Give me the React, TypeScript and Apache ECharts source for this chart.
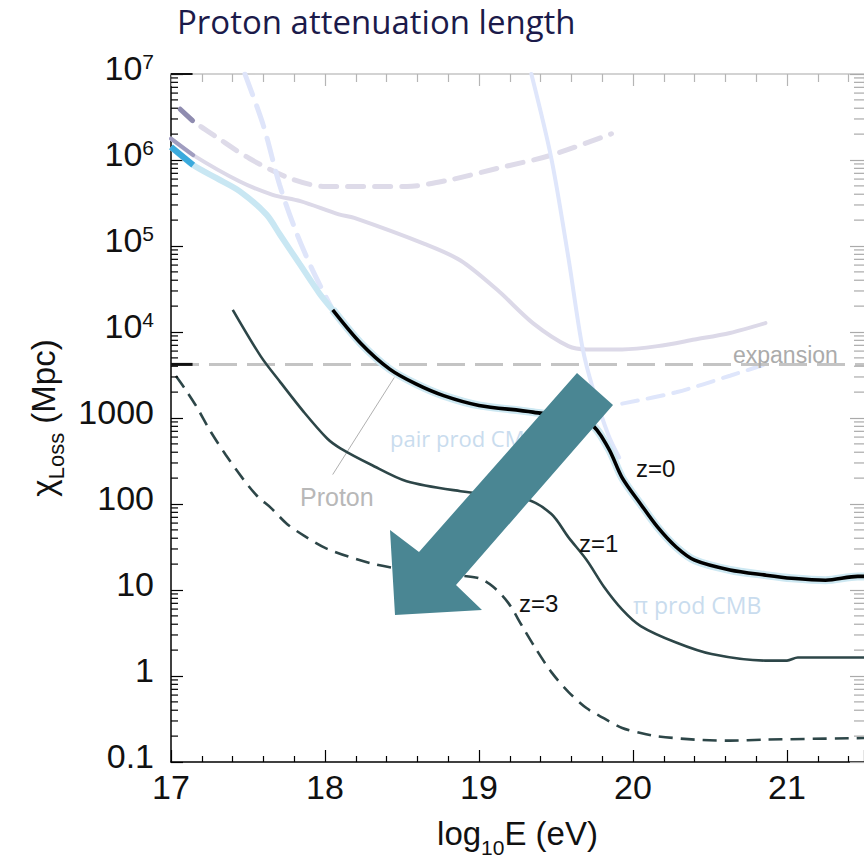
import React, { useEffect, useRef } from "react";
import * as echarts from "echarts";

// ---- axes ----
const X_MIN = 17;
const X_MAX = 21.5;
const Y_MIN = 0.1;
const Y_MAX = 1e7;
const MINOR_MULT = [2, 3, 4, 5, 6, 7, 8, 9];
const DECADES = [0.1, 1, 10, 100, 1000, 1e4, 1e5, 1e6];

// ---- z = 0 (black, high-energy part) ----
const Z0_E = [18.05, 18.23, 18.42, 18.59, 18.77, 19.0, 19.35, 19.72, 19.84, 19.93, 20.05, 20.16, 20.28, 20.4, 20.63, 20.86, 21.03, 21.25, 21.46, 21.5];
const Z0_X = [18100, 7460, 3700, 2490, 1820, 1400, 1170, 860, 446, 201, 99.5, 53.7, 31.6, 22.2, 17.1, 14.9, 13.7, 13.0, 14.4, 14.4];
// ---- z = 0 low-energy part (faded blue) ----
const Z0L_E = [17.0, 17.144, 17.296, 17.447, 17.619, 17.706, 17.835, 17.964, 18.05];
const Z0L_X = [1.42e6, 8.73e5, 6.14e5, 4.32e5, 2.33e5, 1.37e5, 6.19e4, 2.81e4, 18100];
// ---- z = 1 ----
const Z1_E = [17.401, 17.583, 17.712, 17.863, 18.014, 18.1, 18.3, 18.53, 18.88, 19.3, 19.47, 19.58, 19.7, 19.81, 19.93, 20.05, 20.28, 20.51, 20.86, 21.0, 21.07, 21.5];
const Z1_X = [18100, 5210, 2580, 1170, 577, 444, 286, 184, 141, 114, 76.4, 41.2, 22.2, 11.0, 5.92, 3.81, 2.45, 1.8, 1.51, 1.51, 1.64, 1.64];
// ---- z = 3 ----
const Z3_E = [17.032, 17.086, 17.162, 17.259, 17.356, 17.464, 17.561, 17.647, 17.755, 17.863, 18.014, 18.3, 18.53, 18.84, 19.0, 19.09, 19.19, 19.28, 19.37, 19.47, 19.58, 19.7, 19.81, 19.93, 20.05, 20.16, 20.4, 20.63, 20.86, 21.5];
const Z3_X = [3080, 2250, 1390, 687, 372, 200, 123, 90.8, 58.3, 42.9, 30.1, 20.4, 17.1, 14.9, 13.7, 11.0, 7.08, 3.81, 2.06, 1.11, 0.655, 0.421, 0.323, 0.248, 0.217, 0.199, 0.182, 0.177, 0.182, 0.19];
// ---- faded background curves ----
const LAV_E = [17.0, 17.144, 17.447, 17.66, 17.84, 18.09, 18.19, 18.65, 18.88, 19.12, 19.35, 19.58, 19.7, 19.93, 20.16, 20.4, 20.63, 20.86];
const LAV_X = [1.77e6, 1.14e6, 5.62e5, 3.94e5, 3.32e5, 2.33e5, 2.12e5, 1.05e5, 6.78e4, 3.07e4, 1.27e4, 6850, 6280, 6280, 6850, 8170, 9750, 12700];
const LAVD_E = [17.06, 17.14, 17.296, 17.51, 17.77, 18.0, 18.14, 18.53, 18.81, 19.12, 19.47, 19.86];
const LAVD_X = [3.89e6, 2.87e6, 1.85e6, 1.04e6, 6.14e5, 4.93e5, 4.93e5, 4.93e5, 5.87e5, 8.0e5, 1.14e6, 2.02e6];
const PERD_E = [17.48, 17.6, 17.705, 17.81, 17.92, 18.05];
const PERD_X = [1e7, 2.51e6, 5.14e5, 1.5e5, 5.2e4, 18100];
const PERS_E = [19.34, 19.47, 19.58, 19.67, 19.74, 19.84, 19.91];
const PERS_X = [1e7, 1.04e6, 7.4e4, 6860, 2180, 634, 347];
const PERD2_E = [19.93, 20.28, 20.63, 20.86];
const PERD2_X = [1470, 1990, 3100, 4220];
const EXPANSION = 4200;
const LEADER_E = [18.45, 18.05];
const LEADER_X = [2960, 220];

const pts = (e: number[], x: number[]) => e.map((v, i) => [v, x[i]]);

const AXIS_FONT = "'Liberation Sans', Arial, sans-serif";
const SLIDE_FONT = "'Open Sans', sans-serif";

function yLabel(v: number) {
  const n = Math.round(Math.log10(v));
  if (n >= 4) return `{b|10}{s|${n}}`;
  const txt = n >= 0 ? String(Math.round(v)) : "0.1";
  return `{b|${txt}}`;
}

export default function App() {
  const ref = useRef<HTMLDivElement>(null);
  useEffect(() => {
    if (!ref.current) return;
    const chart = echarts.init(ref.current, undefined, { renderer: "svg" });
    const minorTicks: number[][] = [];
    DECADES.forEach((d) => MINOR_MULT.forEach((m) => minorTicks.push([X_MIN, +(d * m).toPrecision(3)])));

    const faint = (name: string, data: number[][], color: string, width: number, dash?: number[]) => ({
      name,
      type: "line",
      data,
      smooth: 0.3,
      symbol: "none",
      silent: true,
      lineStyle: { color, width, type: dash ? dash : "solid", cap: "round" },
      z: 1,
    });
    const note = (text: string, x: number, y: number, size: number, fill: string, font = AXIS_FONT) => ({
      type: "text",
      x,
      y,
      z: 50,
      style: { text, fontFamily: font, fontSize: size, fill, textVerticalAlign: "middle", verticalAlign: "middle" },
    });

    chart.setOption({
      animation: false,
      backgroundColor: "#ffffff",
      title: {
        text: "Proton attenuation length",
        left: 172,
        top: 0,
        textStyle: { fontFamily: SLIDE_FONT, fontSize: 33, fontWeight: "normal", color: "#1b1a4a" },
      },
      grid: { left: 171, top: 74, width: 695, height: 697, containLabel: false },
      xAxis: [
        {
          type: "value",
          min: X_MIN,
          max: X_MAX,
          interval: 1,
          name: "{m|log}{sub|10}{m|E (eV)}",
          nameLocation: "middle",
          nameGap: 55,
          nameTextStyle: {
            rich: {
              m: { fontFamily: AXIS_FONT, fontSize: 33, lineHeight: 33, color: "#111", verticalAlign: "top" },
              sub: { fontFamily: AXIS_FONT, fontSize: 21, lineHeight: 21, color: "#111", verticalAlign: "top", padding: [20, 0, 0, 0] },
            },
          },
          axisLine: { lineStyle: { color: "#000", width: 1.5 } },
          axisTick: { inside: true, length: 12, lineStyle: { color: "#000", width: 1.2 } },
          minorTick: { show: true, splitNumber: 5, length: 6, lineStyle: { color: "#000", width: 1.2 } },
          splitLine: { show: false },
          axisLabel: {
            fontFamily: AXIS_FONT,
            fontSize: 34,
            color: "#111",
            margin: 8,
            showMaxLabel: false,
            formatter: (v: number) => String(Math.round(v)),
          },
        },
        {
          type: "value",
          position: "top",
          min: X_MIN,
          max: X_MAX,
          interval: 1,
          axisLine: { show: true, lineStyle: { color: "#c4c4c4", width: 1.5 } },
          axisTick: { inside: true, length: 12, lineStyle: { color: "#b5b5b5", width: 1.2 } },
          minorTick: { show: true, splitNumber: 5, length: 8, lineStyle: { color: "#b5b5b5", width: 1.2 } },
          splitLine: { show: false },
          axisLabel: { show: false },
        },
      ],
      yAxis: [
        {
          type: "log",
          logBase: 10,
          min: Y_MIN,
          max: Y_MAX,
          name: "{c|χ}{sub|Loss}{c| (Mpc)}",
          nameLocation: "middle",
          nameRotate: 90,
          nameGap: 110,
          nameTextStyle: {
            rich: {
              c: { fontFamily: AXIS_FONT, fontSize: 33, lineHeight: 33, color: "#111", verticalAlign: "top" },
              sub: { fontFamily: AXIS_FONT, fontSize: 22, lineHeight: 22, color: "#111", verticalAlign: "top", padding: [18, 0, 0, 0] },
            },
          },
          axisLine: { lineStyle: { color: "#000", width: 1.5 } },
          axisTick: { inside: true, length: 12, lineStyle: { color: "#000", width: 1.2 } },
          splitLine: { show: false },
          axisLabel: {
            margin: 17,
            padding: [0, 0, 12, 0],
            formatter: yLabel,
            rich: {
              b: { fontFamily: AXIS_FONT, fontSize: 34, lineHeight: 34, color: "#111" },
              s: { fontFamily: AXIS_FONT, fontSize: 21, lineHeight: 34, color: "#111", verticalAlign: "top" },
            },
          },
        },
        {
          type: "log",
          logBase: 10,
          min: Y_MIN,
          max: Y_MAX,
          position: "right",
          axisLine: { show: false },
          axisTick: { inside: true, length: 14, lineStyle: { color: "#aaa", width: 1.2 } },
          splitLine: { show: false },
          axisLabel: { show: false },
        },
      ],
      series: [
        {
          type: "custom",
          name: "minor ticks",
          silent: true,
          data: minorTicks,
          clip: false,
          renderItem: (params: any, api: any) => {
            const p = api.coord([api.value(0), api.value(1)]);
            const cs = params.coordSys;
            const r = cs.x + cs.width;
            return {
              type: "group",
              children: [
                { type: "line", shape: { x1: cs.x, y1: p[1], x2: cs.x + 7, y2: p[1] }, style: { stroke: "#000", lineWidth: 1.2 } },
                { type: "line", shape: { x1: r - 10, y1: p[1], x2: r, y2: p[1] }, style: { stroke: "#aaa", lineWidth: 1.2 } },
              ],
            };
          },
          z: 5,
        },
        faint("lavender", pts(LAV_E, LAV_X), "#dcd9e8", 4),
        faint("lavender dark", pts(LAV_E.slice(0, 2), LAV_X.slice(0, 2)), "#a09dc0", 4),
        faint("lavender dashed", pts(LAVD_E, LAVD_X), "#dedbe9", 5, [16, 11]),
        faint("lavender dashed dark", pts(LAVD_E.slice(0, 2), LAVD_X.slice(0, 2)), "#8f8cb0", 5),
        faint("pair dashed", pts(PERD_E, PERD_X), "#dfe5fa", 5, [22, 12]),
        faint("pion", pts(PERS_E, PERS_X), "#dfe6fb", 4),
        faint("pion dashed", pts(PERD2_E, PERD2_X), "#dfe6fb", 4, [16, 10]),
        {
          name: "expansion",
          type: "line",
          data: [[X_MIN, EXPANSION], [X_MAX, EXPANSION]],
          symbol: "none",
          silent: true,
          lineStyle: { color: "#c4c4c4", width: 3, type: [28, 10] },
          z: 2,
        },
        {
          name: "expansion start",
          type: "line",
          data: [[X_MIN, EXPANSION], [17.14, EXPANSION]],
          symbol: "none",
          silent: true,
          lineStyle: { color: "#111", width: 3 },
          z: 2,
        },
        {
          name: "top axis start",
          type: "line",
          data: [[X_MIN, Y_MAX], [17.14, Y_MAX]],
          symbol: "none",
          silent: true,
          clip: false,
          lineStyle: { color: "#111", width: 2 },
          z: 6,
        },
        {
          name: "leader",
          type: "line",
          data: pts(LEADER_E, LEADER_X),
          symbol: "none",
          silent: true,
          lineStyle: { color: "#b0b0b0", width: 1 },
          z: 2,
        },
        {
          name: "z=3",
          type: "line",
          data: pts(Z3_E, Z3_X),
          smooth: 0.3,
          symbol: "none",
          lineStyle: { color: "#2d4648", width: 2.6, type: [14, 8] },
          z: 3,
        },
        {
          name: "z=1",
          type: "line",
          data: pts(Z1_E, Z1_X),
          smooth: 0.3,
          symbol: "none",
          lineStyle: { color: "#2d4648", width: 2.6 },
          z: 3,
        },
        {
          name: "z=0 low",
          type: "line",
          data: pts(Z0L_E, Z0L_X),
          smooth: 0.3,
          symbol: "none",
          lineStyle: { color: "#c9e7f3", width: 6 },
          z: 3,
        },
        {
          name: "z=0 low dark",
          type: "line",
          data: pts(Z0L_E.slice(0, 2), Z0L_X.slice(0, 2)),
          symbol: "none",
          lineStyle: { color: "#3aaadd", width: 6 },
          z: 3,
        },
        {
          name: "z=0 halo",
          type: "line",
          data: pts(Z0_E, Z0_X),
          smooth: 0.3,
          symbol: "none",
          lineStyle: { color: "#cde8f2", width: 8 },
          z: 3,
        },
        {
          name: "z=0",
          type: "line",
          data: pts(Z0_E, Z0_X),
          smooth: 0.3,
          symbol: "none",
          lineStyle: { color: "#000", width: 3.6 },
          z: 4,
        },
      ],
      graphic: [
        note("expansion", 733, 355, 23, "#ababab"),
        note("pair prod CMB", 390, 438, 22, "#c9dcee", SLIDE_FONT),
        note("π prod CMB", 633, 605, 23, "#c9dcee", SLIDE_FONT),
        note("Proton", 300, 497, 25, "#b8b8b8"),
        note("z=0", 636, 468, 24, "#111"),
        note("z=1", 579, 543, 24, "#111"),
        note("z=3", 519, 603, 24, "#111"),
        {
          type: "polygon",
          z: 100,
          shape: {
            points: [
              [577, 373],
              [613, 405],
              [456, 585],
              [482, 610],
              [395, 615],
              [390, 530],
              [419, 552],
            ],
          },
          style: { fill: "#4a8693" },
        },
      ],
    });
    return () => chart.dispose();
  }, []);
  return <div ref={ref} style={{ position: "fixed", left: 0, top: 0, width: 864, height: 863 }} />;
}
